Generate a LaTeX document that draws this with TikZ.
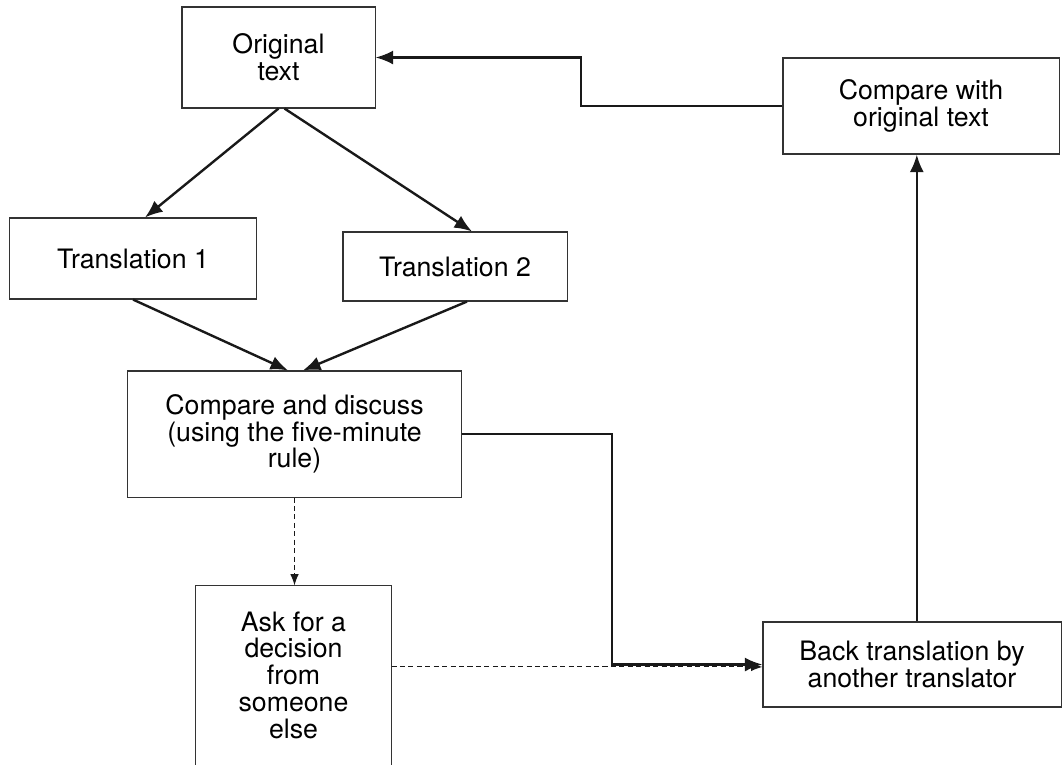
\documentclass[tikz,border=0pt]{standalone}
\usepackage{fontspec}
\setmainfont{TeX Gyre Heros}
\usetikzlibrary{arrows.meta,calc}
\begin{document}
\begin{tikzpicture}[x=0.025cm,y=-0.025cm,>={Latex[length=12.5pt,width=10pt]},
  box/.style={draw=black!80,line width=0.75pt,inner sep=0pt,align=center,
    font=\fontsize{19}{19}\selectfont},
  flow/.style={->,line width=1.7pt,black!90},
  maybe/.style={dashed,dash pattern=on 3.6pt off 2.4pt,line width=0.8pt,black!90,
    -{Latex[length=8pt,width=6pt]}}]
  \useasboundingbox (0,0) rectangle (1062,764);

  \node[box,minimum width=4.825cm,minimum height=2.525cm] (orig) at (278.5,57.5) {Original\\text};
  \node[box,minimum width=6.9cm,minimum height=2.4cm] (cwo) at (921,106) {Compare with\\original text};
  \node[box,minimum width=6.15cm,minimum height=2.025cm] (t1) at (133,258.5) {Translation 1};
  \node[box,minimum width=5.6cm,minimum height=1.725cm] (t2) at (455,266.5) {Translation 2};
  \node[box,minimum width=8.325cm,minimum height=3.15cm] (cmp) at (294.5,434) {Compare and discuss\\(using the five-minute\\rule)};
  \node[box,draw=none,minimum width=4.875cm,minimum height=4.45cm] (ask) at (293.5,675) {Ask for a\\decision\\from\\someone\\else};
  \node[box,minimum width=7.45cm,minimum height=2.125cm] (back) at (912,664.5) {Back translation by\\another translator};

  \draw[draw=black!80,line width=0.75pt] ([yshift=-0.5cm]ask.south west) |- (ask.north east) -- ([yshift=-0.5cm]ask.south east);

  \coordinate (turnA) at (612,550);
  \coordinate (turnB) at (581,80);

  \draw[flow] (orig.south) -- ([xshift=0.3cm]t1.north);
  \draw[flow] ([xshift=0.15cm]orig.south) -- ([xshift=0.425cm]t2.north);
  \draw[flow] (t1.south) -- ([xshift=-0.16cm]cmp.north);
  \draw[flow] ([xshift=0.3cm]t2.south) -- ([xshift=0.21cm]cmp.north);
  \draw[maybe] (cmp.south) -- (cmp.south |- ask.north);
  \draw[maybe] ([yshift=-0.06cm]ask.east |- back.west) -- ([yshift=-0.06cm]back.west);
  \draw[flow] (cmp.east) -| (turnA) |- (back.west);
  \draw[flow] ([xshift=0.12cm]back.north) -- ([xshift=0.12cm]back.north |- cwo.south);
  \draw[flow] (cwo.west) -| (turnB) |- (orig.east);
\end{tikzpicture}
\end{document}
